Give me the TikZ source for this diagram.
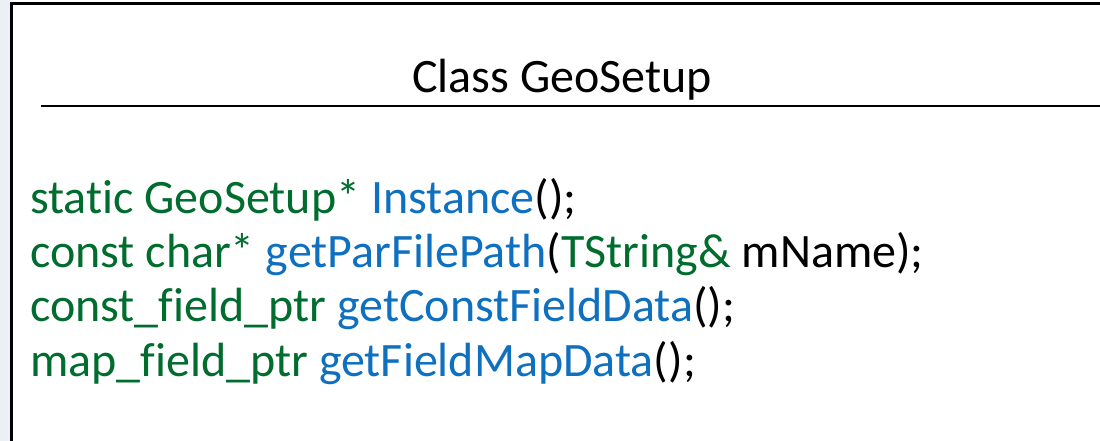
\documentclass[tikz,border=0pt]{standalone}
\usepackage{fontspec}
\setmainfont{Carlito}[Ligatures={NoCommon}]
\definecolor{kwgreen}{RGB}{0,108,46}
\definecolor{fnblue}{RGB}{16,112,192}
\definecolor{edgegray}{RGB}{236,239,245}
\tikzset{
  codeline/.style={anchor=base west, inner sep=0pt, font=\fontsize{48}{54}\selectfont},
  titletext/.style={anchor=base, inner sep=0pt, font=\fontsize{48}{54}\selectfont}
}
\begin{document}
\begin{tikzpicture}[x=1pt, y=-1pt]
  % canvas
  \fill[white] (0,0) rectangle (1100,441);
  \fill[edgegray] (0,0) rectangle (10,441);
  \useasboundingbox (0,0) rectangle (1100,441);
  % class box outline (left and top edges)
  \draw[line width=3pt] (11.5,441) -- (11.5,4) -- (1100,4);
  % title
  \node[titletext] (title) at (562,93) {Class GeoSetup};
  % separator under the title
  \coordinate (sepL) at (41,106);
  \coordinate (sepR) at (1100,106);
  \draw[line width=1.4pt] (sepL) -- (sepR);
  % member functions
  \node[codeline] (m1) at (30,213) {\textcolor{kwgreen}{static GeoSetup*} \textcolor{fnblue}{Instance}();};
  \node[codeline] (m2) at (30,267) {\textcolor{kwgreen}{const char*} \textcolor{fnblue}{getParFilePath}(\textcolor{kwgreen}{TString\&} mName);};
  \node[codeline] (m3) at (30,321) {\textcolor{kwgreen}{const\_field\_ptr} \textcolor{fnblue}{getConstFieldData}();};
  \node[codeline] (m4) at (30,376) {\textcolor{kwgreen}{map\_field\_ptr} \textcolor{fnblue}{getFieldMapData}();};
\end{tikzpicture}
\end{document}
